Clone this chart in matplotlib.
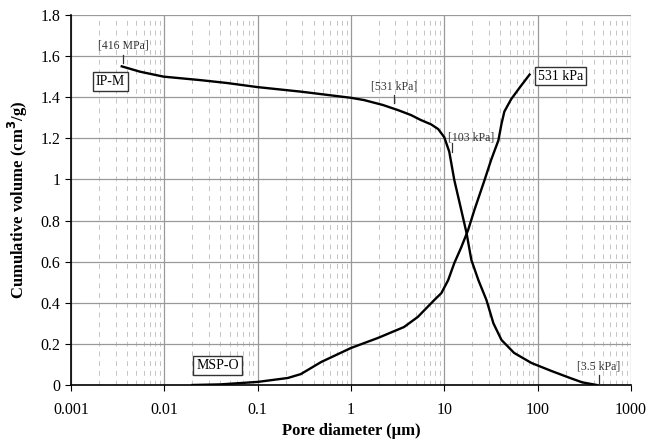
import matplotlib.pyplot as plt
from matplotlib.ticker import FixedLocator, LogLocator, NullFormatter

# IP-M curve (cumulative intrusion, decreasing with pore diameter)
ipm_d = [0.0035, 0.0055, 0.0098, 0.0244, 0.047, 0.1, 0.29, 1.0, 1.38, 2.2, 3.2, 4.4, 5.6, 7.2, 8.6, 10, 11.3,
         12.8, 15.2, 17.3, 19.5, 23.2, 28.3, 33.6, 41, 56, 86, 141, 220, 300, 430]
ipm_v = [1.55, 1.524, 1.50, 1.483, 1.469, 1.449, 1.427, 1.397, 1.386, 1.362, 1.337, 1.313, 1.289, 1.268, 1.245, 1.205, 1.135,
         0.997, 0.851, 0.74, 0.608, 0.51, 0.413, 0.30, 0.219, 0.156, 0.107, 0.068, 0.035, 0.013, 0.0]

# MSP-O curve
msp_d = [0.02, 0.04, 0.1, 0.21, 0.29, 0.48, 1.0, 1.95, 3.7, 5.2, 7.8, 9.3, 11, 12.8, 15.2, 18, 21, 27,
         31.7, 38, 41, 44, 52, 65, 82]
msp_v = [0.0, 0.003, 0.015, 0.034, 0.053, 0.112, 0.18, 0.229, 0.282, 0.331, 0.413, 0.447, 0.51, 0.593, 0.67, 0.754, 0.851, 0.997,
         1.094, 1.19, 1.27, 1.33, 1.39, 1.45, 1.51]

xticks = [0.001, 0.01, 0.1, 1, 10, 100, 1000]
xtick_labels = ['0.001', '0.01', '0.1', '1', '10', '100', '1000']
yticks = [0, 0.2, 0.4, 0.6, 0.8, 1, 1.2, 1.4, 1.6, 1.8]
ytick_labels = ['0', '0.2', '0.4', '0.6', '0.8', '1', '1.2', '1.4', '1.6', '1.8']

plt.rcParams['font.family'] = ['Liberation Serif', 'DejaVu Serif']

fig = plt.figure(figsize=(6.47, 4.40), dpi=100)
ax = fig.add_axes([0.1097, 0.125, 0.8655, 0.841])

ax.set_xscale('log')
ax.set_xlim(0.001, 1000)
ax.set_ylim(0, 1.8)

ax.xaxis.set_major_locator(FixedLocator(xticks))
ax.set_xticklabels(xtick_labels)
ax.xaxis.set_minor_locator(LogLocator(base=10, subs=range(2, 10)))
ax.xaxis.set_minor_formatter(NullFormatter())
ax.set_yticks(yticks)
ax.set_yticklabels(ytick_labels)

ax.grid(which='major', axis='both', color='#999999', linewidth=0.9)
ax.grid(which='minor', axis='x', color='#c4c4c4', linewidth=0.7, linestyle=(0, (5, 5)))
ax.set_axisbelow(True)

for s in ['top', 'right']:
    ax.spines[s].set_visible(False)
ax.spines['left'].set_linewidth(1.2)
ax.spines['bottom'].set_linewidth(1.2)

ax.tick_params(axis='both', which='major', direction='out', length=4, labelsize=11.5, color='black')
ax.tick_params(axis='x', which='minor', length=0)
ax.tick_params(axis='x', pad=8)

ax.plot(ipm_d, ipm_v, color='black', linewidth=1.7)
ax.plot(msp_d, msp_v, color='black', linewidth=1.7)

ax.set_xlabel('Pore diameter (\u03bcm)', fontsize=12, fontweight='bold', labelpad=4)
ax.set_ylabel('Cumulative volume (cm$^\\mathbf{3}$/g)', fontsize=12, fontweight='bold', labelpad=8)

# pressure markers
lbl = dict(fontsize=8.5, color='#333333', ha='center', va='center')
ax.text(0.0036, 1.65, '[416 MPa]', **lbl)
ax.plot([0.0036, 0.0036], [1.566, 1.605], color='#333333', linewidth=0.9)
ax.text(2.9, 1.45, '[531 kPa]', **lbl)
ax.plot([2.9, 2.9], [1.37, 1.41], color='#333333', linewidth=0.9)
ax.text(11.0, 1.206, '[103 kPa]', fontsize=8.5, color='#333333', ha='left', va='center')
ax.plot([12.2, 12.2], [1.133, 1.177], color='#333333', linewidth=0.9)
ax.text(453, 0.088, '[3.5 kPa]', **lbl)
ax.plot([453, 453], [0.01, 0.049], color='#333333', linewidth=0.9)

box = dict(boxstyle='square,pad=0.2', facecolor='white', edgecolor='#333333', linewidth=1.0)
ax.text(0.00263, 1.476, 'IP-M', fontsize=10, ha='center', va='center', bbox=box)
ax.text(176, 1.503, '531 kPa', fontsize=10, ha='center', va='center', bbox=box)
ax.text(0.0372, 0.095, 'MSP-O', fontsize=10, ha='center', va='center', bbox=box)

fig.savefig('out.png', dpi=100)
